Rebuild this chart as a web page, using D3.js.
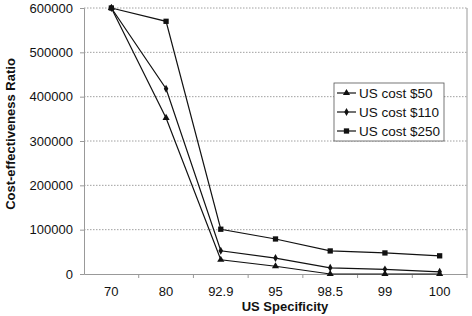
<!DOCTYPE html>
<html><head><meta charset="utf-8">
<script src="https://cdn.jsdelivr.net/npm/d3@7"></script>
<style>body{margin:0;background:#fff}svg{display:block}text{font-family:"Liberation Sans",Arial,sans-serif}</style>
</head><body><svg id="c" width="472" height="316"></svg>
<script>
const categories = ["70","80","92.9","95","98.5","99","100"];
const cost50 = [600000,352000,32000,17500,0,0,0];
const cost110 = [600000,418000,52500,36000,14000,10500,5000];
const cost250 = [600000,570000,101000,79000,52000,47500,41000];
const seriesNames = ["US cost $50","US cost $110","US cost $250"];
const yTicks = [0,100000,200000,300000,400000,500000,600000];

const series = [
  {name: seriesNames[0], values: cost50, sym: d3.symbolTriangle, size: 22},
  {name: seriesNames[1], values: cost110, sym: d3.symbolDiamond, size: 18},
  {name: seriesNames[2], values: cost250, sym: d3.symbolSquare, size: 28}
];

const svg = d3.select("#c");
const L = 84, R = 467, T = 8, B = 274;
const x = d3.scaleBand().domain(categories).range([L, R]);
const y = d3.scaleLinear().domain([0, 600000]).range([B, T]);

// gridlines
svg.append("g").selectAll("line").data(yTicks.filter(d => d > 0)).join("line")
  .attr("x1", L).attr("x2", R).attr("y1", d => y(d)).attr("y2", d => y(d))
  .attr("stroke", "#888").attr("stroke-width", 0.8).attr("stroke-dasharray", "1.5,1.5");

// right border
svg.append("line").attr("x1", R).attr("x2", R).attr("y1", T).attr("y2", B)
  .attr("stroke", "#999").attr("stroke-width", 1);

// y axis
const yAxis = svg.append("g").attr("transform", `translate(${L},0)`)
  .call(d3.axisLeft(y).tickValues(yTicks).tickFormat(d3.format("d")).tickSize(4).tickPadding(7));
yAxis.select(".domain").attr("stroke", "#999");
yAxis.selectAll(".tick line").attr("stroke", "#999");
yAxis.selectAll("text").attr("font-size", 13).attr("fill", "#111");

// x axis
const xAxis = svg.append("g").attr("transform", `translate(0,${B})`)
  .call(d3.axisBottom(x).tickSize(0).tickPadding(13));
xAxis.select(".domain").attr("stroke", "#999");
xAxis.selectAll("text").attr("font-size", 13).attr("fill", "#111");
// ticks between categories
svg.append("g").selectAll("line").data(categories.slice(1)).join("line")
  .attr("x1", d => x(d)).attr("x2", d => x(d)).attr("y1", B).attr("y2", B + 4)
  .attr("stroke", "#999");
svg.append("line").attr("x1", R).attr("x2", R).attr("y1", B).attr("y2", B + 4).attr("stroke", "#999");

const cx = d => x(d) + x.bandwidth() / 2;
const line = d3.line().x((d, i) => cx(categories[i])).y(d => y(d));

series.forEach(s => {
  svg.append("path").attr("d", line(s.values)).attr("fill", "none")
    .attr("stroke", "#111").attr("stroke-width", 1.2);
  svg.append("g").selectAll("path").data(s.values).join("path")
    .attr("transform", (d, i) => `translate(${cx(categories[i])},${y(d)})`)
    .attr("d", d3.symbol().type(s.sym).size(s.size)).attr("fill", "#111");
});

// axis titles
svg.append("text").attr("x", 285).attr("y", 311).attr("text-anchor", "middle")
  .attr("font-size", 13).attr("font-weight", "bold").attr("fill", "#111").text("US Specificity");
svg.append("text").attr("transform", `translate(15,134) rotate(-90)`).attr("text-anchor", "middle")
  .attr("font-size", 13).attr("font-weight", "bold").attr("fill", "#111").text("Cost-effectiveness Ratio");

// legend
const lg = svg.append("g");
lg.append("rect").attr("x", 334).attr("y", 83).attr("width", 110).attr("height", 58)
  .attr("fill", "#fff").attr("stroke", "#555").attr("stroke-width", 0.8);
series.forEach((s, i) => {
  const ly = 93 + i * 19;
  lg.append("line").attr("x1", 337).attr("x2", 356).attr("y1", ly).attr("y2", ly)
    .attr("stroke", "#111").attr("stroke-width", 1.2);
  lg.append("path").attr("transform", `translate(346.5,${ly})`)
    .attr("d", d3.symbol().type(s.sym).size(s.size)).attr("fill", "#111");
  lg.append("text").attr("x", 359).attr("y", ly + 5).attr("font-size", 13.5).attr("fill", "#111").text(s.name);
});
</script></body></html>
